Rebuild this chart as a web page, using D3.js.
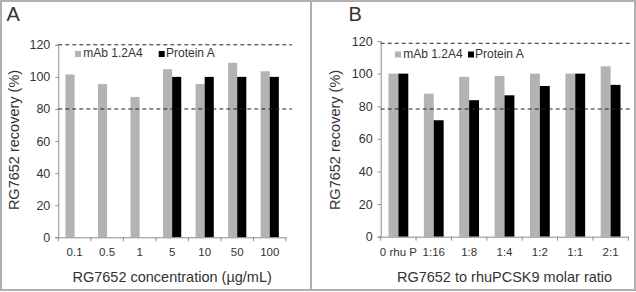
<!DOCTYPE html>
<html><head><meta charset="utf-8">
<script src="https://cdn.jsdelivr.net/npm/d3@7"></script>
<style>
body{margin:0;background:#fff;}
svg text{font-family:"Liberation Sans",Arial,sans-serif;fill:#333;}
</style></head>
<body><svg id="c" width="636" height="292"></svg>
<script>
// ---- data ----
const catsA = ["0.1","0.5","1","5","10","50","100"];
const mabA  = [101.5, 95.5, 87.5, 104.8, 95.5, 108.8, 103.5];
const protA = [null, null, null, 100, 100, 100, 100];
const catsB = ["0 rhu P","1:16","1:8","1:4","1:2","1:1","2:1"];
const mabB  = [100, 87.7, 98, 98.6, 100, 100, 104.5];
const protB = [100, 71.4, 83.7, 86.7, 92.4, 100, 93.1];
const yTicks = [0,20,40,60,80,100,120];
const limitsA = [120, 80];
const limitsB = [118.6, 78.3];
const seriesNames = ["mAb 1.2A4","Protein A"];
const seriesColors = ["#b3b3b3","#000000"];

const svg = d3.select("#c");

// frame
svg.append("rect").attr("x",1).attr("y",1).attr("width",634).attr("height",289)
  .attr("fill","none").attr("stroke","#b0b0b0").attr("stroke-width",2);
svg.append("line").attr("x1",311).attr("x2",311).attr("y1",0).attr("y2",291)
  .attr("stroke","#b0b0b0").attr("stroke-width",2);

function panel(o){
  const g = svg.append("g");
  const x = d3.scaleBand().domain(o.cats).range([o.x0,o.x1]);
  const y = d3.scaleLinear().domain([0,120]).range([o.y0,o.y120]);
  const bw = x.bandwidth()*0.28;
  const series = [o.mab, o.prot];
  series.forEach((vals,si)=>{
    g.selectAll(null).data(o.cats.map((c,i)=>({c,v:vals[i]})).filter(d=>d.v!=null))
      .enter().append("rect")
      .attr("x",d=>x(d.c)+x.bandwidth()/2 + (si===0?-bw:0))
      .attr("y",d=>y(d.v)).attr("width",bw).attr("height",d=>y(0)-y(d.v))
      .attr("fill",seriesColors[si]);
  });
  const ya = g.append("g").attr("transform",`translate(${o.x0},0)`)
    .call(d3.axisLeft(y).tickValues(yTicks).tickSize(3).tickPadding(5));
  ya.select(".domain").attr("stroke","#8c8c8c");
  ya.selectAll(".tick line").attr("stroke","#8c8c8c");
  ya.selectAll("text").attr("font-size",12.5).attr("fill","#333");
  const xa = g.append("g").attr("transform",`translate(0,${o.y0})`)
    .call(d3.axisBottom(x).tickSize(0).tickPadding(0));
  xa.select(".domain").attr("stroke","#8c8c8c");
  xa.selectAll(".tick text").attr("font-size",11.5).attr("fill","#333")
    .attr("dy",null).attr("y",19);
  const bounds = o.cats.map(c=>x(c)).concat([o.x1]);
  g.selectAll(null).data(bounds).enter().append("line")
    .attr("x1",d=>d).attr("x2",d=>d).attr("y1",o.y0).attr("y2",o.y0+4)
    .attr("stroke","#8c8c8c");
  g.selectAll(null).data(o.limits).enter().append("line")
    .attr("x1",o.x0).attr("x2",o.dashEnd).attr("y1",d=>y(d)).attr("y2",d=>y(d))
    .attr("stroke","#222").attr("stroke-width",1).attr("stroke-dasharray","4,3");
  o.leg.forEach((l,i)=>{
    g.append("rect").attr("x",l.sx).attr("y",o.legY-6).attr("width",6).attr("height",6)
      .attr("fill",seriesColors[i]);
    g.append("text").attr("x",l.tx).attr("y",o.legY).attr("font-size",12).text(seriesNames[i]);
  });
  g.append("text").attr("x",(o.x0+o.x1)/2).attr("y",282).attr("text-anchor","middle")
    .attr("font-size",14.5).text(o.xTitle);
  g.append("text").attr("transform",`translate(${o.yTitleX},${o.yTitleY}) rotate(-90)`)
    .attr("text-anchor","middle").attr("font-size",14.5).text("RG7652 recovery (%)");
  g.append("text").attr("x",o.labX).attr("y",21).attr("font-size",20).attr("fill","#222").text(o.label);
}

panel({cats:catsA, mab:mabA, prot:protA, x0:58.3, x1:286, y0:237.3, y120:44.8,
  limits:limitsA, dashEnd:292, legY:57, leg:[{sx:75,tx:83.3},{sx:158.7,tx:166}],
  xTitle:"RG7652 concentration (\u00b5g/mL)", yTitleX:18.5, yTitleY:140, labX:6.5, label:"A"});
panel({cats:catsB, mab:mabB, prot:protB, x0:380.7, x1:628.3, y0:236.7, y120:41,
  limits:limitsB, dashEnd:631, legY:57.5, leg:[{sx:395,tx:403.3},{sx:468,tx:475}],
  xTitle:"RG7652 to rhuPCSK9 molar ratio", yTitleX:339.5, yTitleY:140, labX:348.5, label:"B"});
</script></body></html>
